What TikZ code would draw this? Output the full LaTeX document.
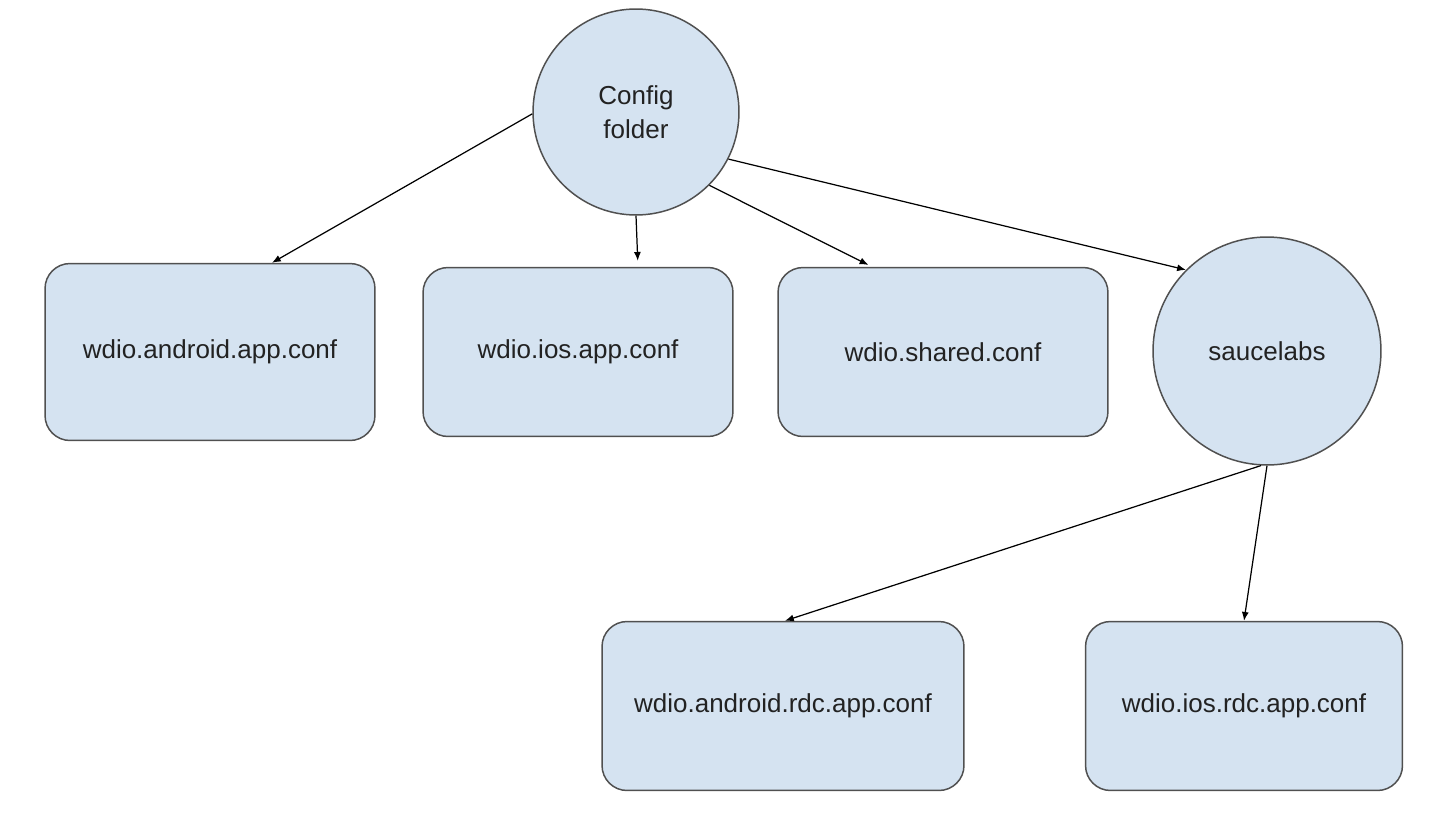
\documentclass[tikz,border=0pt]{standalone}
\usepackage{fontspec}
\setmainfont{Liberation Sans}
\usetikzlibrary{arrows.meta}
\definecolor{boxfill}{HTML}{D5E3F1}
\definecolor{boxdraw}{HTML}{505050}
\definecolor{txt}{HTML}{222222}
\begin{document}
\begin{tikzpicture}
        [x=0.02cm, y=-0.02cm,
        box/.style={rectangle, rounded corners=0.5cm, draw=boxdraw, line width=0.85pt,
            fill=boxfill, text=txt, font=\fontsize{14.8}{19.3}\selectfont},
        circ/.style={circle, draw=boxdraw, line width=0.85pt, fill=boxfill, text=txt,
            align=center, inner sep=0pt, font=\fontsize{14.8}{19.3}\selectfont},
        line/.style={line width=0.7pt, -{Latex[length=5pt,width=4pt]}}]
        \useasboundingbox (0,0) rectangle (1456,835);
        \node[circ, minimum size=4.12cm] (config) at (636,112) {Config\\folder};
        \node[box, minimum width=6.6cm, minimum height=3.54cm] (android) at (210,352) {wdio.android.app.conf};
        \node[box, minimum width=6.2cm, minimum height=3.38cm] (ios) at (578,352) {wdio.ios.app.conf};
        \node[box, minimum width=6.6cm, minimum height=3.38cm] (shared) at (943,352) {wdio.shared.conf};
        \node[circ, minimum size=4.56cm] (sauce) at (1267,351) {saucelabs};
        \node[box, minimum width=7.24cm, minimum height=3.38cm] (androidrdc) at (783,706) {wdio.android.rdc.app.conf};
        \node[box, minimum width=6.34cm, minimum height=3.38cm] (iosrdc) at (1244,706) {wdio.ios.rdc.app.conf};
        \draw[line] (config.181) -- ([xshift=1.24cm]android.north);
        \draw[line, shorten >=0.12cm] (config.south) -- ([xshift=1.2cm]ios.north);
        \draw[line, shorten >=0.08cm] (config.315) -- ([xshift=-1.42cm]shared.north);
        \draw[line] (config.333) -- (sauce.135);
        \draw[line] (sauce.267) -- ([xshift=0.04cm]androidrdc.north);
        \draw[line] (sauce.270) -- (iosrdc.north);
    \end{tikzpicture}
\end{document}
